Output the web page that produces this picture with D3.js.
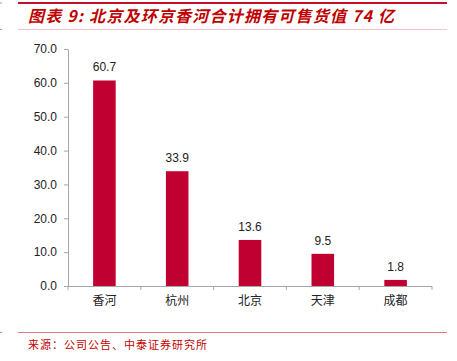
<!DOCTYPE html>
<html lang="zh">
<head>
<meta charset="utf-8">
<title>图表 9</title>
<style>
body { margin: 0; background: #fff; }
svg text { font-family: "Liberation Sans", Arial, sans-serif; }
.cjk { font-family: "Noto Sans CJK SC", sans-serif; }
.axis path, .axis line { stroke: #a6a6a6; }
.axis text { fill: #222; font-size: 12px; }
</style>
</head>
<body>
<div id="chart"></div>
<script src="https://d3js.org/d3.v7.min.js"></script>
<script>
var cities = ['香河', '杭州', '北京', '天津', '成都'];
var values = [60.7, 33.9, 13.6, 9.5, 1.8];
var yTicks = [0, 10, 20, 30, 40, 50, 60, 70];

var W = 457, H = 361;
var plotLeft = 68, plotRight = 432, plotTop = 49, plotBottom = 286;

var svg = d3.select('#chart').append('svg')
  .attr('width', W).attr('height', H);

// header / footer rules
svg.append('line').attr('x1', 18).attr('x2', 447).attr('y1', 3).attr('y2', 3)
  .attr('stroke', '#c8102e').attr('stroke-width', 2.2);
svg.append('line').attr('x1', 18).attr('x2', 447).attr('y1', 29.5).attr('y2', 29.5)
  .attr('stroke', '#f2c4c8').attr('stroke-width', 1);
svg.append('line').attr('x1', 18).attr('x2', 447).attr('y1', 332.5).attr('y2', 332.5)
  .attr('stroke', '#e07a80').attr('stroke-width', 1);
[3, 29.5, 332.5].forEach(function(yy) {
  svg.append('line').attr('x1', 0).attr('x2', 2).attr('y1', yy).attr('y2', yy)
    .attr('stroke', '#e07a80').attr('stroke-width', 1);
});

svg.append('text').attr('class', 'cjk')
  .attr('x', 28).attr('y', 22)
  .attr('fill', '#c00000')
  .style('font-size', '16px').style('font-style', 'italic').style('font-weight', 'bold')
  .style('letter-spacing', '1.2px')
  .text('图表 9: 北京及环京香河合计拥有可售货值 74 亿');

svg.append('text').attr('class', 'cjk')
  .attr('x', 28).attr('y', 349)
  .attr('fill', '#c00000')
  .style('font-size', '11px').style('letter-spacing', '1px')
  .text('来源：公司公告、中泰证券研究所');

var x = d3.scaleBand().domain(cities).range([plotLeft, plotRight]).paddingInner(0.69).paddingOuter(0.345);
var y = d3.scaleLinear().domain([0, 70]).range([plotBottom, plotTop]);

svg.selectAll('rect.bar').data(values).enter().append('rect')
  .attr('class', 'bar')
  .attr('x', function(d, i) { return x(cities[i]); })
  .attr('width', x.bandwidth())
  .attr('y', function(d) { return y(d); })
  .attr('height', function(d) { return plotBottom - y(d); })
  .attr('fill', '#c00030');

svg.selectAll('text.val').data(values).enter().append('text')
  .attr('class', 'val')
  .attr('x', function(d, i) { return x(cities[i]) + x.bandwidth() / 2; })
  .attr('y', function(d) { return y(d) - 9; })
  .attr('text-anchor', 'middle')
  .attr('fill', '#222')
  .style('font-size', '12px')
  .text(function(d) { return d.toFixed(1); });

svg.append('g').attr('class', 'axis')
  .attr('transform', 'translate(' + plotLeft + ',0)')
  .call(d3.axisLeft(y).tickValues(yTicks).tickSize(4).tickSizeOuter(0)
    .tickPadding(7).tickFormat(d3.format('.1f')));

var xAxis = d3.axisBottom(x).tickSize(0).tickSizeOuter(0).tickPadding(10);
var xg = svg.append('g').attr('class', 'axis')
  .attr('transform', 'translate(0,' + plotBottom + ')')
  .call(xAxis);
xg.selectAll('text').attr('class', 'cjk').style('font-size', '12px');
xg.select('.domain').attr('d', 'M' + (plotLeft - 4) + ',0.5H' + plotRight);

// category boundary ticks
var bounds = cities.map(function(c) { return x(c) - x.step() * 0.345; }).concat([plotRight]);
xg.selectAll('line.sep').data(bounds).enter().append('line')
  .attr('class', 'sep')
  .attr('x1', function(d) { return d; }).attr('x2', function(d) { return d; })
  .attr('y1', 0).attr('y2', 4);
</script>
</body>
</html>
